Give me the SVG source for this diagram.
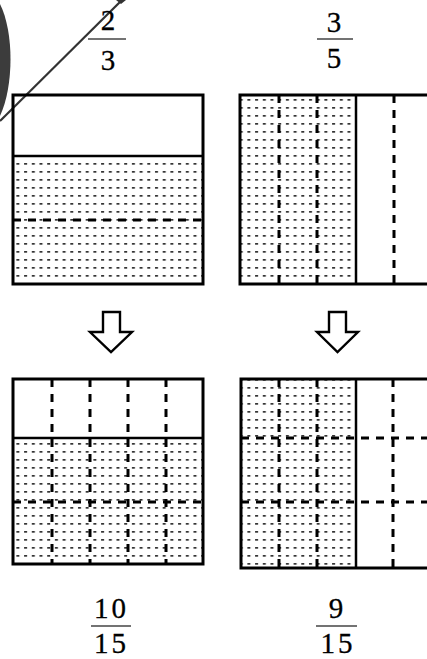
<svg xmlns="http://www.w3.org/2000/svg" width="427" height="659" viewBox="0 0 427 659">
<style>
.frame{fill:none;stroke:#000;stroke-width:3}
.solid{stroke:#000;stroke-width:2.5;fill:none}
.dash{stroke:#000;stroke-width:3;stroke-dasharray:8 7;fill:none}
.num{font-family:"Liberation Serif","Times New Roman",serif;font-size:29px;fill:#000;stroke:#000;stroke-width:0.3;text-anchor:middle}
.bar{stroke:#444;stroke-width:1.6}
.arrow{fill:#fff;stroke:#000;stroke-width:2.4;stroke-linejoin:miter}
</style>
<defs>
<pattern id="st" width="7.7" height="8" patternUnits="userSpaceOnUse">
<rect x="1" y="3" width="3" height="1.7" fill="#333"/>
</pattern>
</defs>
<rect width="427" height="659" fill="#fff"/>
<g id="decor">
<path d="M0,4 C14,32 14,86 0,116 Z" fill="#3c3c3c"/>
<line x1="0" y1="121" x2="122" y2="0" stroke="#333" stroke-width="2.2"/>
<path d="M116,0 L126,0 L121,4 Z" fill="#333"/>
</g>
<g id="frac-2-3">
<text class="num" x="108" y="30">2</text>
<line class="bar" x1="88" y1="39" x2="126" y2="39"/>
<text class="num" x="108" y="70">3</text>
</g>
<g id="frac-3-5">
<text class="num" x="334" y="32">3</text>
<line class="bar" x1="317" y1="39" x2="353" y2="39"/>
<text class="num" x="334" y="68">5</text>
</g>
<g id="box-top-left">
<rect x="13" y="156" width="190" height="128" fill="url(#st)"/>
<line class="dash" x1="13" y1="220" x2="203" y2="220"/>
<line class="solid" x1="13" y1="156" x2="203" y2="156"/>
<rect class="frame" x="13" y="95" width="190" height="189"/>
</g>
<g id="box-top-right">
<rect x="240" y="95" width="116" height="189" fill="url(#st)"/>
<line class="dash" x1="279" y1="95" x2="279" y2="284"/>
<line class="dash" x1="317" y1="95" x2="317" y2="284"/>
<line class="dash" x1="394" y1="95" x2="394" y2="284"/>
<line class="solid" x1="356" y1="95" x2="356" y2="284"/>
<rect class="frame" x="240" y="95" width="200" height="189"/>
</g>
<g id="connectors">
<polygon class="arrow" points="103,312 120,312 120,332 132,332 111,352 90,332 103,332"/>
<polygon class="arrow" points="329,312 346,312 346,332 358,332 337.5,352 317,332 329,332"/>
</g>
<g id="box-bottom-left">
<rect x="13" y="438" width="190" height="126" fill="url(#st)"/>
<line class="dash" x1="52" y1="379" x2="52" y2="564"/>
<line class="dash" x1="90" y1="379" x2="90" y2="564"/>
<line class="dash" x1="128" y1="379" x2="128" y2="564"/>
<line class="dash" x1="166" y1="379" x2="166" y2="564"/>
<line class="dash" x1="13" y1="502" x2="203" y2="502"/>
<line class="solid" x1="13" y1="438" x2="203" y2="438"/>
<rect class="frame" x="13" y="379" width="190" height="185"/>
</g>
<g id="box-bottom-right">
<rect x="241" y="379" width="115" height="189" fill="url(#st)"/>
<line class="dash" x1="279" y1="379" x2="279" y2="568"/>
<line class="dash" x1="317" y1="379" x2="317" y2="568"/>
<line class="dash" x1="393" y1="379" x2="393" y2="568"/>
<line class="dash" x1="241" y1="438" x2="440" y2="438"/>
<line class="dash" x1="241" y1="502" x2="440" y2="502"/>
<line class="solid" x1="356" y1="379" x2="356" y2="568"/>
<rect class="frame" x="241" y="379" width="200" height="189"/>
</g>
<g id="frac-10-15">
<text class="num" x="111.5" y="618" letter-spacing="3">10</text>
<line class="bar" x1="91" y1="626" x2="131" y2="626"/>
<text class="num" x="111.5" y="653" letter-spacing="3">15</text>
</g>
<g id="frac-9-15">
<text class="num" x="336" y="618">9</text>
<line class="bar" x1="316" y1="626" x2="357" y2="626"/>
<text class="num" x="338" y="653" letter-spacing="3">15</text>
</g>
</svg>
